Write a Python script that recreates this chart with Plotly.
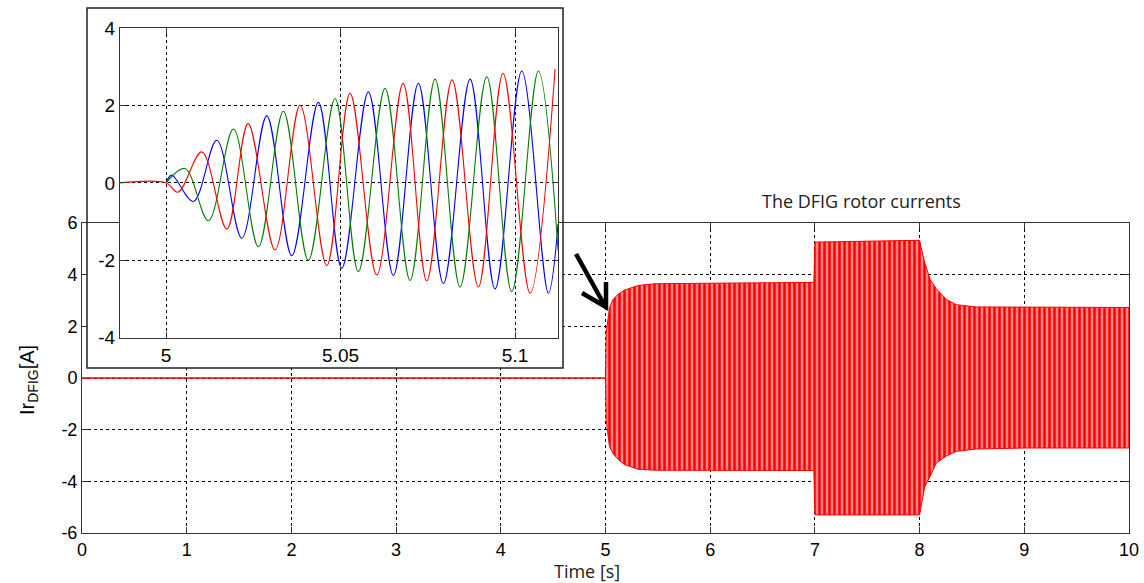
import plotly.graph_objects as go

# ---------------- data ----------------
# Main plot: envelope of the three-phase rotor currents
env_time = [0, 5.0, 5.006, 5.038, 5.07, 5.117, 5.18, 5.31, 5.47, 6.0, 6.99, 7.0,
            8.0, 8.02, 8.05, 8.1, 8.16, 8.26, 8.35, 8.54, 9.0, 10.0]
env_upper = [0, 0, 1.74, 2.71, 3.03, 3.23, 3.40, 3.58, 3.65, 3.67, 3.70, 5.26,
             5.33, 4.95, 4.45, 3.82, 3.45, 3.03, 2.84, 2.75, 2.74, 2.73]
env_lower = [0, 0, -1.62, -2.65, -2.91, -3.14, -3.35, -3.53, -3.57, -3.58, -3.58, -5.30,
             -5.30, -4.84, -4.20, -3.81, -3.29, -3.01, -2.84, -2.75, -2.71, -2.71]

# Inset: successive extrema of each phase current (time [s], current [A])
red_t = [4.9868, 5.0, 5.00344, 5.01023, 5.01739, 5.02350, 5.03123, 5.03840, 5.04605,
         5.05272, 5.06037, 5.06791, 5.07470, 5.08195, 5.08948, 5.09656, 5.10430, 5.11146]
red_v = [0, 0, -0.24, 0.80, -1.19, 1.53, -1.73, 2.00, -2.14,
         2.31, -2.38, 2.57, -2.53, 2.66, -2.69, 2.83, -2.85, 2.94]

blue_t = [5.0, 5.00163, 5.00782, 5.01453, 5.02169, 5.02885, 5.03602, 5.04364, 5.05034,
          5.05797, 5.06513, 5.07229, 5.07946, 5.08711, 5.09427, 5.10192, 5.10954, 5.11232]
blue_v = [0, 0.20, -0.48, 1.10, -1.43, 1.73, -1.88, 2.08, -2.21,
          2.35, -2.39, 2.57, -2.60, 2.68, -2.74, 2.89, -2.85, -1.06]

green_t = [5.0, 5.00544, 5.01212, 5.01928, 5.02645, 5.03361, 5.04077, 5.04842, 5.05510,
           5.06275, 5.06991, 5.07708, 5.08424, 5.09189, 5.09905, 5.10668, 5.11232]
green_v = [0, 0.37, -0.98, 1.39, -1.65, 1.85, -2.00, 2.18, -2.29,
           2.44, -2.52, 2.68, -2.69, 2.74, -2.81, 2.89, -1.75]

main_xticks = [0, 1, 2, 3, 4, 5, 6, 7, 8, 9, 10]
main_yticks = [-6, -4, -2, 0, 2, 4, 6]
inset_xticks = [5, 5.05, 5.1]
inset_xlabels = ["5", "5.05", "5.1"]
inset_yticks = [-4, -2, 0, 2, 4]

title_text = "The DFIG rotor currents"
xlabel_text = "Time [s]"
ylabel_text = "Ir<sub>DFIG</sub>[A]"

# ---------------- layout geometry ----------------
OFF = 0          # the page margin is removed by the post script below
W, H = 1144, 583
# plot area in window pixels: x 82..1129, y 223..533
ML = 82 - OFF
MR = W - (1129 - OFF)
MT = 5
MB = H - (533 - OFF)
PW, PH = W - ML - MR, H - MT - MB
MAIN_TOP = 223
MAIN_BOT = 533
MAIN_X = [0, 10]
MAIN_Y = [-6, 6]
INSET_X = [4.9868, 5.1123]
INSET_Y = [-4, 4]


def fx(px):  # window pixel -> paper x
    return (px - OFF - ML) / PW


def fy(py):  # window pixel -> paper y
    return (H - MB - (py - OFF)) / PH


def tdat(px):  # window pixel -> main x data
    return MAIN_X[0] + (px - OFF - ML) / PW * (MAIN_X[1] - MAIN_X[0])


def vdat(py):  # window pixel -> main y data
    return MAIN_Y[0] + (MAIN_BOT - py) / (MAIN_BOT - MAIN_TOP) * (MAIN_Y[1] - MAIN_Y[0])


def lab(v):
    return ("%g" % v).replace("\u2212", "-")


RED, GREEN, BLUE = "#ff0000", "#008000", "#0000ff"
TICKFONT = "Liberation Sans, Arial, sans-serif"
TXTFONT = "Open Sans, sans-serif"

fig = go.Figure()

# inset background box (covers the main axes under the inset)
bx0, bx1, by0, by1 = 87, 563, 8, 368
fig.add_trace(go.Scatter(
    x=[tdat(bx0), tdat(bx1), tdat(bx1), tdat(bx0), tdat(bx0)],
    y=[vdat(by1), vdat(by1), 8, 8, vdat(by1)],
    mode="lines", fill="toself", fillcolor="white", line=dict(width=0),
    hoverinfo="skip", xaxis="x", yaxis="y"))

# main band
fig.add_trace(go.Scatter(x=env_time, y=env_lower, mode="lines",
                         line=dict(color=RED, width=1), xaxis="x", yaxis="y"))
fig.add_trace(go.Scatter(x=env_time, y=env_upper, mode="lines",
                         line=dict(color=RED, width=1), fill="tonexty",
                         fillpattern=dict(shape="|", size=5, solidity=0.5,
                                          fgcolor=RED, bgcolor="rgb(255,135,135)",
                                          fillmode="replace"),
                         xaxis="x", yaxis="y"))

# inset phases
for t, v, c in [(blue_t, blue_v, BLUE), (green_t, green_v, GREEN), (red_t, red_v, RED)]:
    fig.add_trace(go.Scatter(x=t, y=v, mode="lines",
                             line=dict(color=c, width=1.1, shape="spline", smoothing=1.0),
                             xaxis="x2", yaxis="y2"))

axis_common = dict(showgrid=True, gridcolor="black", griddash="3px,3px", gridwidth=1,
                   showline=True, linecolor="#333333", linewidth=1, mirror="ticks",
                   ticks="inside", ticklen=6, tickcolor="#333333", zeroline=False,
                   tickmode="array", automargin=False, ticklabeloverflow="allow")

fig.update_layout(
    width=W, height=H,
    margin=dict(l=ML, r=MR, t=MT, b=MB, autoexpand=False),
    paper_bgcolor="white", plot_bgcolor="white",
    showlegend=False,
    xaxis=dict(domain=[0, 1], range=MAIN_X, anchor="y",
               tickvals=main_xticks, ticktext=[lab(v) for v in main_xticks],
               tickfont=dict(family=TICKFONT, size=18, color="black"),
               layer="below traces", **axis_common),
    yaxis=dict(domain=[0, fy(MAIN_TOP)], range=MAIN_Y, anchor="x",
               tickvals=main_yticks, ticktext=[lab(v) for v in main_yticks],
               tickfont=dict(family=TICKFONT, size=18, color="black"),
               layer="below traces", **axis_common),
    xaxis2=dict(domain=[fx(120), fx(558)], range=INSET_X, anchor="y2",
                tickvals=inset_xticks, ticktext=inset_xlabels,
                tickfont=dict(family=TICKFONT, size=19, color="black"),
                **axis_common),
    yaxis2=dict(domain=[fy(337.7), fy(28)], range=INSET_Y, anchor="x2",
                tickvals=inset_yticks, ticktext=[lab(v) for v in inset_yticks],
                tickfont=dict(family=TICKFONT, size=19, color="black"),
                **axis_common),
    shapes=[
        dict(type="rect", xref="paper", yref="paper",
             x0=fx(bx0), x1=fx(bx1), y0=fy(by1), y1=fy(by0),
             line=dict(color="#222222", width=1.5), fillcolor="rgba(0,0,0,0)",
             layer="above"),
        dict(type="path", xref="paper", yref="paper",
             path="M %f,%f L %f,%f M %f,%f L %f,%f L %f,%f" % (
                 fx(576), fy(254), fx(605), fy(306),
                 fx(582), fy(293), fx(606), fy(307), fx(606), fy(282)),
             line=dict(color="black", width=4.5), layer="above"),
    ],
    annotations=[
        dict(text=title_text, xref="paper", yref="paper", x=fx(861), y=fy(201),
             showarrow=False, xanchor="center", yanchor="middle",
             font=dict(family=TXTFONT, size=18, color="#222222")),
        dict(text=xlabel_text, xref="paper", yref="paper", x=fx(587), y=fy(571),
             showarrow=False, xanchor="center", yanchor="middle",
             font=dict(family=TXTFONT, size=18, color="#222222")),
        dict(text=ylabel_text, xref="paper", yref="paper", x=fx(28), y=fy(380),
             showarrow=False, xanchor="center", yanchor="middle", textangle=-90,
             font=dict(family=TICKFONT, size=20, color="black")),
    ],
)

page_fix = ("document.body.style.margin='0';"
            "document.body.style.overflow='hidden';"
            "document.documentElement.style.overflow='hidden';")

fig.write_html("out.html", post_script=page_fix, config={"displayModeBar": False})
